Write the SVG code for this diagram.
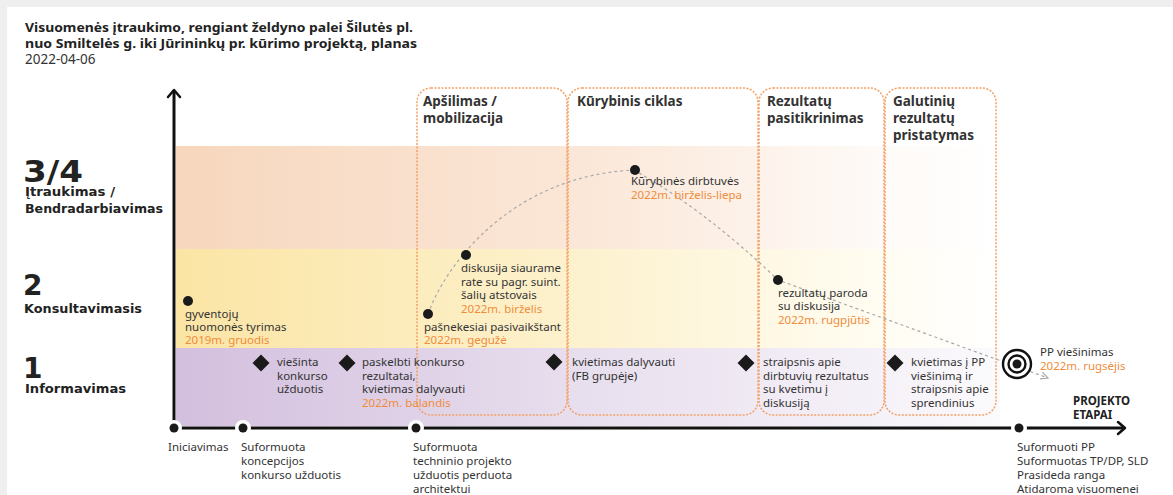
<svg xmlns="http://www.w3.org/2000/svg" width="1173" height="495" viewBox="0 0 1173 495">
<defs>
<style>
.t{font-family:"Noto Sans","Open Sans",sans-serif;font-size:11.5px;fill:#333}
.o{fill:#f08c3a}
.ph{font-family:"Noto Sans","Open Sans",sans-serif;font-weight:700;font-size:13.5px;fill:#333}
.ttl{font-family:"Noto Sans","Open Sans",sans-serif;font-weight:700;font-size:13px;fill:#222}
.lv{font-family:"DejaVu Sans",sans-serif;font-weight:700;font-size:12px;fill:#222}
.big{font-family:"DejaVu Sans",sans-serif;font-weight:700;font-size:30px;fill:#222}
.box{fill:none;stroke:#f3a064;stroke-width:1.5;stroke-dasharray:2 1.5}
.ax{stroke:#111;stroke-width:3;fill:none}
.axh{fill:none;stroke:#111;stroke-width:2.5;stroke-linecap:round;stroke-linejoin:round}
.dash{fill:none;stroke:#a8a8a8;stroke-width:1.2;stroke-dasharray:3 3}
.dot{fill:#1a1a1a}
.halo{fill:#fff}
</style>
<linearGradient id="gPeach" x1="176" y1="0" x2="1000" y2="0" gradientUnits="userSpaceOnUse">
<stop offset="0" stop-color="#f7d7bd"/>
<stop offset="0.5" stop-color="#fbe7d8"/>
<stop offset="0.85" stop-color="#fefaf7"/>
<stop offset="1" stop-color="#ffffff"/>
</linearGradient>
<linearGradient id="gYel" x1="176" y1="0" x2="1000" y2="0" gradientUnits="userSpaceOnUse">
<stop offset="0" stop-color="#fbe5a5"/>
<stop offset="0.5" stop-color="#fdf2cf"/>
<stop offset="0.85" stop-color="#fffcf1"/>
<stop offset="1" stop-color="#ffffff"/>
</linearGradient>
<linearGradient id="gPur" x1="176" y1="0" x2="1000" y2="0" gradientUnits="userSpaceOnUse">
<stop offset="0" stop-color="#d3bfde"/>
<stop offset="0.5" stop-color="#e8dfee"/>
<stop offset="0.85" stop-color="#f5f1f8"/>
<stop offset="1" stop-color="#fbfafc"/>
</linearGradient>
<path id="dia" d="M0,-8.5 L8.5,0 L0,8.5 L-8.5,0Z" fill="#1a1a1a"/>
<marker id="chev" viewBox="0 0 10 10" refX="9" refY="5" markerWidth="9" markerHeight="9" orient="auto" markerUnits="userSpaceOnUse">
<path d="M1,1 L9,5 L1,9" fill="none" stroke="#a8a8a8" stroke-width="1.3"/>
</marker>
</defs>

<rect x="0" y="0" width="1173" height="495" fill="#efefef"/>
<rect x="7" y="7" width="1166" height="488" fill="#ffffff"/>

<g id="title">
<text class="ttl" x="25" y="32" textLength="388" lengthAdjust="spacingAndGlyphs">Visuomenės įtraukimo, rengiant želdyno palei Šilutės pl.</text>
<text class="ttl" x="25" y="48" textLength="392" lengthAdjust="spacingAndGlyphs">nuo Smiltelės g. iki Jūrininkų pr. kūrimo projektą, planas</text>
<text class="t" x="25" y="64" style="font-size:13.5px">2022-04-06</text>
</g>

<g id="bands">
<rect x="176" y="146" width="824" height="103" fill="url(#gPeach)"/>
<rect x="176" y="249" width="824" height="99" fill="url(#gYel)"/>
<rect x="176" y="348" width="824" height="78" fill="url(#gPur)"/>
</g>

<g id="levels">
<text class="big" x="23" y="182" textLength="60" lengthAdjust="spacingAndGlyphs">3/4</text>
<text class="lv" x="25" y="196" textLength="90" lengthAdjust="spacingAndGlyphs">Įtraukimas /</text>
<text class="lv" x="25" y="213" textLength="138" lengthAdjust="spacingAndGlyphs">Bendradarbiavimas</text>
<text class="big" x="23" y="295" style="font-size:28px">2</text>
<text class="lv" x="24" y="313" textLength="118" lengthAdjust="spacingAndGlyphs">Konsultavimasis</text>
<text class="big" x="23" y="378" style="font-size:28px">1</text>
<text class="lv" x="25" y="393" textLength="101" lengthAdjust="spacingAndGlyphs">Informavimas</text>
</g>

<g id="phase-apsilimas">
<rect class="box" x="417" y="88" width="150" height="327" rx="14"/>
<text class="ph" x="423" y="106">Apšilimas /</text>
<text class="ph" x="423" y="123">mobilizacija</text>
</g>
<g id="phase-kurybinis">
<rect class="box" x="568" y="88" width="190" height="327" rx="14"/>
<text class="ph" x="577" y="106">Kūrybinis ciklas</text>
</g>
<g id="phase-rezultatu">
<rect class="box" x="759" y="88" width="125" height="327" rx="14"/>
<text class="ph" x="767" y="106">Rezultatų</text>
<text class="ph" x="767" y="123">pasitikrinimas</text>
</g>
<g id="phase-galutiniu">
<rect class="box" x="885" y="88" width="111" height="327" rx="14"/>
<text class="ph" x="893" y="106">Galutinių</text>
<text class="ph" x="893" y="123">rezultatų</text>
<text class="ph" x="893" y="140">pristatymas</text>
</g>

<g id="connectors">
<path class="dash" d="M428,314 C445,266 510,176 634,170"/>
<path class="dash" d="M634,170 Q705,210 778,280 L1048,378" marker-end="url(#chev)"/>
</g>

<g id="axes">
<line class="ax" x1="174" y1="428" x2="174" y2="91"/>
<polyline class="axh" points="168,97 174,90 180,97"/>
<line class="ax" x1="174" y1="428" x2="1123" y2="428"/>
<polyline class="axh" points="1118,422 1125,428 1118,434"/>
<text class="t" x="1073" y="405" style="font-weight:700;font-size:11.5px;fill:#222">PROJEKTO</text>
<text class="t" x="1073" y="419" style="font-weight:700;font-size:11.5px;fill:#222">ETAPAI</text>
</g>

<g id="stage-iniciavimas">
<circle class="halo" cx="174" cy="428" r="8"/>
<circle class="dot" cx="174" cy="428" r="4.5"/>
<text class="t" x="168" y="451">Iniciavimas</text>
</g>
<g id="stage-koncepcija">
<circle class="halo" cx="243" cy="428" r="8"/>
<circle class="dot" cx="243" cy="428" r="4.5"/>
<text class="t" x="241" y="451">Suformuota</text>
<text class="t" x="241" y="465">koncepcijos</text>
<text class="t" x="241" y="479">konkurso užduotis</text>
</g>
<g id="stage-techninis">
<circle class="halo" cx="416" cy="428" r="8"/>
<circle class="dot" cx="416" cy="428" r="4.5"/>
<text class="t" x="413" y="451">Suformuota</text>
<text class="t" x="413" y="465">techninio projekto</text>
<text class="t" x="413" y="479">užduotis perduota</text>
<text class="t" x="413" y="493">architektui</text>
</g>
<g id="stage-pp">
<circle class="halo" cx="1019" cy="428" r="8"/>
<circle class="dot" cx="1019" cy="428" r="4.5"/>
<text class="t" x="1017" y="451">Suformuoti PP</text>
<text class="t" x="1017" y="465">Suformuotas TP/DP, SLD</text>
<text class="t" x="1017" y="479">Prasideda ranga</text>
<text class="t" x="1017" y="493">Atidaroma visuomenei</text>
</g>

<g id="ev-gyventoju">
<circle class="dot" cx="188" cy="301" r="5"/>
<text class="t" x="185" y="318">gyventojų</text>
<text class="t" x="185" y="331">nuomonės tyrimas</text>
<text class="t o" x="185" y="344">2019m. gruodis</text>
</g>
<g id="ev-pasnekesiai">
<circle class="dot" cx="428" cy="314" r="5"/>
<text class="t" x="424" y="331">pašnekesiai pasivaikštant</text>
<text class="t o" x="424" y="344">2022m. gegužė</text>
</g>
<g id="ev-diskusija">
<circle class="dot" cx="466" cy="255" r="5"/>
<text class="t" x="461" y="272">diskusija siaurame</text>
<text class="t" x="461" y="286">rate su pagr. suint.</text>
<text class="t" x="461" y="299">šalių atstovais</text>
<text class="t o" x="461" y="313">2022m. birželis</text>
</g>
<g id="ev-dirbtuves">
<circle class="dot" cx="635" cy="170" r="5"/>
<text class="t" x="631" y="185">Kūrybinės dirbtuvės</text>
<text class="t o" x="631" y="199">2022m. birželis-liepa</text>
</g>
<g id="ev-paroda">
<circle class="dot" cx="778" cy="280" r="5"/>
<text class="t" x="778" y="297">rezultatų paroda</text>
<text class="t" x="778" y="310">su diskusija</text>
<text class="t o" x="778" y="324">2022m. rugpjūtis</text>
</g>
<g id="ev-viesinimas">
<circle cx="1017" cy="364" r="14" fill="#fff" stroke="#111" stroke-width="2.4"/>
<circle cx="1017" cy="364" r="8.5" fill="#fff" stroke="#111" stroke-width="2.4"/>
<circle class="dot" cx="1017" cy="364" r="4.5"/>
<text class="t" x="1040" y="356">PP viešinimas</text>
<text class="t o" x="1040" y="370">2022m. rugsėjis</text>
</g>

<g id="inf-viesinta">
<use href="#dia" x="261" y="363"/>
<text class="t" x="277" y="366">viešinta</text>
<text class="t" x="277" y="380">konkurso</text>
<text class="t" x="277" y="393">užduotis</text>
</g>
<g id="inf-paskelbti">
<use href="#dia" x="347" y="363"/>
<text class="t" x="362" y="366">paskelbti konkurso</text>
<text class="t" x="362" y="380">rezultatai,</text>
<text class="t" x="362" y="393">kvietimas dalyvauti</text>
<text class="t o" x="362" y="407">2022m. balandis</text>
</g>
<g id="inf-fb">
<use href="#dia" x="554" y="362"/>
<text class="t" x="572" y="366">kvietimas dalyvauti</text>
<text class="t" x="572" y="380">(FB grupėje)</text>
</g>
<g id="inf-straipsnis">
<use href="#dia" x="746" y="363"/>
<text class="t" x="763" y="366">straipsnis apie</text>
<text class="t" x="763" y="380">dirbtuvių rezultatus</text>
<text class="t" x="763" y="393">su kvetimu į</text>
<text class="t" x="763" y="407">diskusiją</text>
</g>
<g id="inf-kvietimas-pp">
<use href="#dia" x="895" y="363"/>
<text class="t" x="911" y="366">kvietimas į PP</text>
<text class="t" x="911" y="380">viešinimą ir</text>
<text class="t" x="911" y="393">straipsnis apie</text>
<text class="t" x="911" y="407">sprendinius</text>
</g>
</svg>
